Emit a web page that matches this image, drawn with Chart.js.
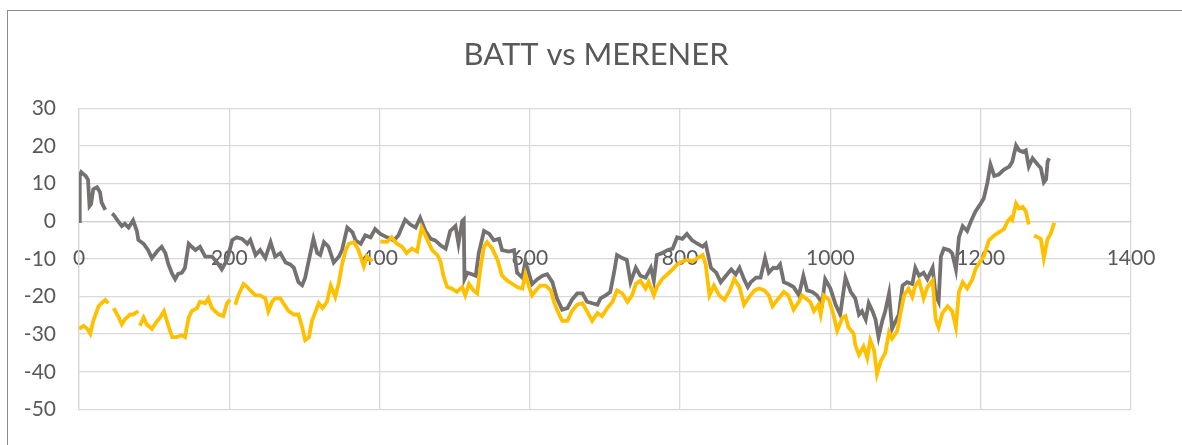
<!DOCTYPE html>
<html>
<head>
<meta charset="utf-8">
<script src="https://cdn.jsdelivr.net/npm/chart.js@4.4.0/dist/chart.umd.min.js"></script>
<style>
    body { margin: 0; background: #fff; overflow: hidden; }
    #frame { position: absolute; left: 7px; top: 10px; width: 1300px; height: 600px; border: 1px solid #8c8c8c; }
    #wrap { position: absolute; left: 0; top: 0; width: 1182px; height: 445px; }
</style>
</head>
<body>
<div id="frame"></div>
<div id="wrap"><canvas id="myChart"></canvas></div>
<script>
const xTicks = [0, 200, 400, 600, 800, 1000, 1200, 1400];
const yTicks = [-50, -40, -30, -20, -10, 0, 10, 20, 30];

// grey line
const battX = [0, 1, 3, 6, 9, 12, 14, 16, 19, 24, 28, 30, 35, 38, 44, 46, 52, 57, 61, 66, 72, 77, 79, 86, 92, 97, 104, 110, 115, 119, 124, 128, 132, 137, 141, 146, 150, 155, 161, 168, 177, 184, 190, 197, 204, 210, 217, 224, 228, 235, 241, 248, 255, 261, 268, 275, 281, 286, 292, 297, 301, 306, 312, 317, 321, 326, 332, 339, 346, 350, 357, 364, 368, 375, 381, 388, 394, 401, 410, 419, 425, 434, 441, 448, 454, 461, 468, 474, 481, 488, 494, 501, 505, 510, 512, 513, 517, 523, 528, 532, 539, 546, 552, 559, 563, 572, 579, 583, 590, 594, 599, 603, 610, 617, 623, 630, 636, 643, 650, 656, 663, 670, 676, 683, 690, 694, 701, 707, 712, 716, 723, 729, 734, 741, 747, 754, 761, 765, 769, 776, 783, 790, 796, 803, 809, 816, 823, 830, 834, 841, 848, 854, 861, 868, 874, 879, 885, 890, 894, 901, 907, 913, 918, 924, 929, 933, 938, 944, 951, 958, 964, 969, 976, 982, 989, 993, 1000, 1007, 1013, 1020, 1027, 1033, 1038, 1042, 1047, 1051, 1056, 1060, 1064, 1069, 1073, 1078, 1082, 1087, 1091, 1096, 1102, 1109, 1113, 1118, 1124, 1129, 1136, 1140, 1144, 1147, 1151, 1158, 1162, 1167, 1171, 1176, 1182, 1187, 1193, 1200, 1204, 1209, 1213, 1218, 1224, 1231, 1238, 1242, 1247, 1251, 1256, 1260, 1264, 1269, 1276, 1280, 1284, 1287, 1289, 1291];
const battY = [0, 12, 13, 12.5, 12, 11, 4, 4.5, 8.5, 9, 7.7, 5, 3, null, 2, 1.7, 0, -1.3, -0.7, -1.7, 0.2, -2.6, -5, -6, -7.7, -9.8, -8, -6.8, -8.5, -11.5, -14, -15.4, -14, -13.7, -12.4, -6, -6.8, -7.7, -6.8, -9.4, -9.4, -11, -12.8, -10.3, -5, -4.3, -4.7, -6, -5, -9, -7.7, -9.8, -5.6, -9.4, -8.5, -11, -11.5, -12.4, -16.2, -17, -15, -10.3, -4.7, -8.5, -9, -5.6, -6.8, -11, -9.4, -7.7, -1.7, -3, -5.1, -6, -3.8, -4.3, -2.1, -3.4, -4.3, -5.1, -3.8, 0.4, -0.9, -1.7, 0.9, -2.6, -4.7, -5.1, -6.4, -7.3, -2.6, -1.3, -6, 0, 0.4, -15.4, -13.7, -14.1, -14.5, -8.5, -2.6, -3.4, -5.1, -4.7, -7.7, -8.1, -7.7, -13.7, -15, -10.7, -14.1, -16.7, -15.4, -14.5, -14.1, -16.2, -20.5, -23.5, -23.1, -20.9, -19.2, -19.2, -21.4, -21.8, -22.2, -20.5, -19.7, -18.8, -13.7, -9, -9.8, -10.3, -16.2, -12.4, -14.5, -15, -12.4, -15.8, -9, -8.5, -7.7, -7.3, -4.3, -4.7, -3.4, -5.1, -6, -6.8, -6, -12.4, -13.7, -16.2, -14.5, -12.8, -14.1, -12.4, -15.4, -17.5, -16.2, -15, -15, -9.8, -13.7, -12.4, -12.5, -11.5, -16.2, -16.7, -17.5, -19.7, -14.5, -18.4, -18.8, -19.7, -21.8, -15.4, -17.9, -22.2, -24.8, -15, -18.8, -20.5, -24.8, -23.9, -26.1, -21.8, -23.9, -26.1, -30.8, -26.5, -23.9, -19.2, -28.6, -26.5, -24.8, -17.1, -16.2, -16.7, -12.4, -14.5, -13.7, -15.4, -12.4, -19.7, -21.4, -9.4, -7.3, -7.7, -8.5, -12.8, -4.3, -1.3, -2.6, 0, 2.6, 4.7, 6, 10.3, 15, 12, 12.4, 13.7, 14.5, 15.8, 20.1, 18.8, 18.4, 18.8, 14.5, 16.7, 15, 14.1, 10.3, 11.1, 15.8, 16.7];

// yellow line
const merenerX = [0, 6, 11, 15, 19, 26, 30, 35, 39, 42, 46, 52, 57, 61, 68, 72, 79, 80, 81, 86, 90, 97, 104, 108, 113, 119, 124, 130, 137, 141, 146, 150, 157, 161, 168, 172, 177, 181, 186, 192, 197, 201, 204, 208, 212, 219, 224, 228, 235, 241, 248, 252, 257, 261, 268, 272, 279, 286, 292, 297, 301, 306, 310, 315, 319, 324, 330, 335, 341, 346, 350, 355, 359, 366, 372, 379, 383, 390, 395, 401, 410, 416, 423, 430, 436, 443, 450, 456, 463, 470, 477, 481, 485, 490, 496, 503, 510, 514, 519, 525, 530, 534, 539, 543, 550, 557, 563, 570, 577, 583, 590, 594, 599, 603, 608, 614, 621, 628, 632, 636, 643, 650, 656, 663, 670, 676, 683, 690, 696, 703, 710, 716, 723, 730, 736, 741, 747, 754, 758, 765, 769, 776, 783, 790, 796, 803, 809, 816, 823, 830, 834, 839, 845, 852, 859, 866, 872, 879, 885, 892, 899, 905, 912, 918, 923, 929, 938, 944, 951, 958, 962, 967, 973, 978, 984, 987, 991, 998, 1004, 1009, 1016, 1020, 1024, 1031, 1033, 1038, 1044, 1049, 1053, 1058, 1062, 1067, 1073, 1078, 1082, 1089, 1093, 1098, 1104, 1109, 1113, 1118, 1124, 1129, 1136, 1140, 1144, 1149, 1156, 1162, 1167, 1171, 1176, 1182, 1189, 1193, 1198, 1204, 1211, 1218, 1224, 1231, 1236, 1240, 1242, 1247, 1251, 1256, 1260, 1264, 1267, 1271, 1276, 1280, 1284, 1289, 1293, 1298];
const merenerY = [-28.6, -27.8, -28.6, -29.9, -26.5, -22.6, -21.8, -20.9, -21.8, null, -23.1, -25.2, -27.4, -26.1, -24.8, -24.8, -23.9, null, -27.8, -25.6, -27.4, -28.6, -26.5, -25.6, -23.9, -27.8, -30.8, -30.8, -30.3, -30.8, -25.6, -23.9, -23.1, -21.4, -21.8, -20.5, -23.1, -23.9, -24.8, -25.2, -21.8, -20.9, null, -22.2, -19.7, -16.7, -17.5, -18.4, -19.7, -19.7, -20.5, -23.9, -21.4, -20.5, -20.5, -21.8, -23.9, -24.8, -24.8, -28.2, -31.6, -30.8, -26.5, -23.9, -21.8, -23.1, -21.4, -17.1, -20.1, -16.2, -11.5, -7.7, -6, -5.6, -7.7, -12, -9.4, -10.7, null, -5.4, -5.5, -4.3, -6, -6.8, -8.5, -7.3, -8.1, -1.7, -4.7, -7.7, -9, -10.7, -14.5, -17.5, -17.9, -18.8, -17.5, -19.7, -16.7, -18.4, -19.2, -12.8, -6.8, -5.6, -7.3, -10.3, -14.5, -15.8, -16.7, -17.5, -17.9, -14.1, -17.5, -19.7, -18.4, -17.1, -17.1, -18.4, -21.4, -23.5, -26.5, -26.5, -23.9, -22.2, -21.8, -23.9, -26.5, -24.4, -25.2, -23.1, -21.4, -18.4, -19.2, -21.4, -19.7, -16.7, -15.8, -17.9, -16.2, -19.7, -17.5, -15.4, -14.1, -12.8, -11.5, -10.7, -10.3, -10.7, -9.8, -9, -11.5, -19.7, -17.1, -19.7, -20.9, -18.4, -15.4, -17.5, -22.2, -20.1, -18.4, -17.9, -18.4, -19.7, -22.6, -21, -18.8, -19.7, -23.5, -21.4, -19.7, -20.5, -21.4, -23.9, -22.2, -24.8, -19.7, -20.9, -24.8, -29.1, -25.6, -25.2, -28.2, -29.9, -32.9, -35.5, -33.3, -36.3, -31.6, -34.2, -40.6, -37.2, -35, -29.5, -31.2, -29.1, -24.8, -19.7, -17.9, -20.1, -17.1, -15.8, -20.5, -17.5, -15.8, -26.1, -28.2, -24.4, -22.6, -23.9, -28.2, -18.8, -16.2, -17.9, -15.4, -12.8, -11.1, -9.4, -5.1, -3.8, -3, -2.1, 0, 0.9, 0.4, 4.7, 3.4, 3.8, 2.6, -0.9, null, -3.8, -4.3, -4.7, -9.8, -4.7, -3.4, -0.4];

function toPoints(xs, ys) {
    return xs.map((x, i) => ({ x: x, y: ys[i] }));
}

function renderChart() {
    let ctx = document.getElementById('myChart');

    new Chart(ctx, {
        type: 'line',
        data: {
            datasets: [{
                label: 'MERENER',
                data: toPoints(merenerX, merenerY),
                borderColor: '#FFC000',
                borderWidth: 3.8,
                pointRadius: 0,
                tension: 0,
                spanGaps: false,
                yAxisID: 'y'
            }, {
                label: 'BATT',
                data: toPoints(battX, battY),
                borderColor: '#767171',
                borderWidth: 3.8,
                pointRadius: 0,
                tension: 0,
                spanGaps: false,
                yAxisID: 'y'
            }]
        },
        options: {
            responsive: true,
            maintainAspectRatio: false,
            animation: false,
            layout: {
                padding: { left: 10, right: 0, top: 0, bottom: 23 }
            },
            plugins: {
                legend: { display: false },
                tooltip: { enabled: false },
                title: {
                    display: true,
                    text: 'BATT vs MERENER',
                    color: '#595959',
                    font: { family: 'Lato', size: 31, weight: '400' },
                    padding: { top: 36, bottom: 35 }
                }
            },
            scales: {
                x: {
                    type: 'linear',
                    position: { y: 0 },
                    min: xTicks[0],
                    max: xTicks[xTicks.length - 1],
                    afterBuildTicks: s => { s.ticks = xTicks.map(v => ({ value: v })); },
                    grid: { color: '#d9d9d9', lineWidth: 1.3, drawTicks: false },
                    border: { color: '#d0d0d0', width: 1.3 },
                    ticks: {
                        color: '#595959',
                        font: { family: 'Lato', size: 21 },
                        padding: 24,
                        maxRotation: 0,
                        callback: v => String(v)
                    }
                },
                y: {
                    min: yTicks[0],
                    max: yTicks[yTicks.length - 1],
                    afterBuildTicks: s => { s.ticks = yTicks.map(v => ({ value: v })); },
                    afterFit: s => { s.width = 69; },
                    grid: { color: '#d9d9d9', lineWidth: 1.3, drawTicks: false },
                    border: { color: '#d9d9d9', width: 1.3 },
                    ticks: {
                        color: '#595959',
                        font: { family: 'Lato', size: 21 },
                        padding: 23,
                        callback: v => String(v)
                    }
                },
                // empty right-hand strip, only keeps the plot right edge at 1400
                yRight: {
                    position: 'right',
                    min: yTicks[0],
                    max: yTicks[yTicks.length - 1],
                    afterFit: s => { s.width = 51; },
                    grid: { display: false, drawTicks: false },
                    border: { display: false },
                    ticks: { display: false }
                }
            }
        }
    });
}

renderChart();
</script>
</body>
</html>
